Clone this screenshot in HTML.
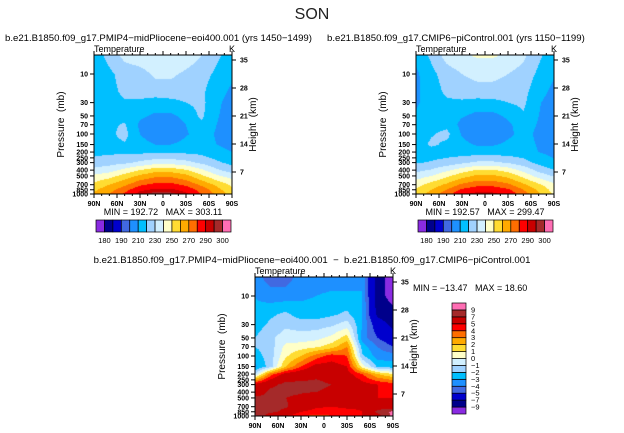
<!DOCTYPE html>
<html><head><meta charset="utf-8"><style>
body{margin:0;background:#fff;width:624px;height:433px;overflow:hidden;position:relative;font-family:"Liberation Sans",sans-serif}
canvas{position:absolute}
svg{position:absolute;left:0;top:0}
svg text{white-space:pre}
</style></head><body>
<canvas id="c1" style="left:94px;top:55px" width="138" height="139"></canvas>
<canvas id="c2" style="left:416px;top:55px" width="138" height="139"></canvas>
<canvas id="c3" style="left:255px;top:277px" width="138" height="139"></canvas>
<svg id="s" width="624" height="433">
<text x="312" y="19" text-anchor="middle" font-size="16" fill="#222">SON</text>
<text x="5" y="41" font-size="9.6" fill="#000">b.e21.B1850.f09_g17.PMIP4−midPliocene−eoi400.001 (yrs 1450−1499)</text>
<text x="327" y="41" font-size="9.6" fill="#000">b.e21.B1850.f09_g17.CMIP6−piControl.001 (yrs 1150−1199)</text>
<text x="312" y="263" text-anchor="middle" font-size="9.6" fill="#000">b.e21.B1850.f09_g17.PMIP4−midPliocene−eoi400.001  −  b.e21.B1850.f09_g17.CMIP6−piControl.001</text>
<text x="163" y="215" text-anchor="middle" font-size="9" xml:space="preserve">MIN = 192.72   MAX = 303.11</text>
<text x="485" y="215" text-anchor="middle" font-size="9" xml:space="preserve">MIN = 192.57   MAX = 299.47</text>
<text x="413" y="291" font-size="9" xml:space="preserve">MIN = −13.47   MAX = 18.60</text>
</svg>
<script>
const colors=['#8a2be2','#00008b','#0000cd','#4169e1','#1e90ff','#00bfff','#a0d2ff','#d2f0ff','#ffffc8','#ffdc32','#ffaa00','#ff6e00','#ff0000','#c80000','#a52a2a','#ff6eb4'];
const tLevels=[180,185,190,200,210,220,230,240,250,260,270,280,290,295,300];
const tLabels=['180','190','210','230','250','270','290','300'];
const dLevels=[-9,-7,-5,-4,-3,-2,-1,0,1,2,3,4,5,7,9];
const dLabels=['-9','-7','-5','-4','-3','-2','-1','0','1','2','3','4','5','7','9'];
const lats=[90,70,50,30,10,-10,-30,-50,-70,-90];
const pres=[5,10,20,30,50,70,100,150,200,300,400,500,700,850,1000];
const pTicks=[10,30,50,70,100,150,200,250,300,400,500,700,850,1000];
const hTicks=[7,14,21,28,35];
const latTicks=['90N','60N','30N','0','30S','60S','90S'];
const tLeft=[
[215,223,233,236,238,240,236,230,222,215],
[213,218,224,226,232,232,228,224,218,212],
[212,217,222,224,224,225,224,222,214,208],
[211,216,219,218,216,217,220,223,212,206],
[213,216,217,212,208,208,213,222,211,205],
[214,218,221,208,203,203,210,218,210,204],
[215,218,223,210,203,203,209,214,209,205],
[216,217,219,214,210,210,213,215,210,207],
[217,218,218,218,218,218,218,217,213,210],
[224,226,228,232,236,236,233,228,222,217],
[233,236,243,250,256,256,251,242,232,225],
[242,246,254,262,268,268,263,252,242,235],
[253,260,268,278,283,283,278,268,258,248],
[258,266,276,288,292,292,287,276,264,252],
[262,270,282,294,298,297,292,280,268,256]];
const tRight=[
[213,222,234,238,241,241,238,232,222,213],
[208,217,225,230,233,233,230,226,218,211],
[208,215,222,225,226,226,225,223,214,207],
[209,213,218,218,216,217,220,222,211,205],
[211,214,214,211,207,207,212,219,210,204],
[212,216,217,207,202,202,208,215,209,203],
[213,219,223,209,202,202,208,213,208,204],
[214,222,218,213,209,209,212,214,209,206],
[213,215,215,215,215,215,215,214,210,207],
[219,221,224,228,232,232,229,224,217,212],
[227,231,238,245,251,251,246,237,227,220],
[235,240,248,256,262,262,257,247,236,229],
[246,254,262,272,277,277,272,262,252,242],
[251,260,270,282,287,287,282,270,258,246],
[254,264,276,288,293,292,287,275,262,248]];
const tDiff=[
[-3.5,-4.5,-4.5,-3.5,-3.5,-3.5,-3.5,-3,-8,-10],
[-3,-3.5,-3.5,-3.2,-3,-2.8,-2.8,-3,-8,-10],
[-2.8,-2.2,-1.8,-2.5,-2.5,-2.2,-1.8,-3,-7.5,-8],
[-2.5,-1.8,-1.2,-1.5,-1.5,-1.2,-0.5,-3,-6,-7.5],
[-2,-1.2,-0.5,-0.5,-0.3,0.3,1.5,-3.5,-5,-6],
[-2,-1.5,0.3,0.5,0.8,1.5,3,-2.5,-4,-5],
[-2.5,-1.5,0.8,2,3.5,4.5,4,-1.8,-3.5,-3.5],
[-3.2,-1.5,2,4,5.5,5.5,5,0.5,-2.2,-2.5],
[-1,3.5,5.5,6,6.5,6,5.5,4,2,1],
[5.5,6.5,7.5,7.5,7.5,7,6.5,5.5,5,4.5],
[5.5,7.5,7.5,7.2,7,6.5,6,5.5,5,4.5],
[7.5,7.5,7,6.5,5.5,5,5.2,5.5,5,5],
[7.5,7.5,7.2,6,5.2,5,5.3,5.2,6,5.5],
[8,7.5,6.5,5,4.5,4.2,4.5,5,7.5,9.5],
[9.5,5.5,5,4,3.8,4,4.5,5,6,9.8]];

const W=138,H=139;
function yOfP(p){return (3-Math.log10(p))*60;}
function pOfY(py){return Math.pow(10,3-(H-py)/60);}
function field(grid,lat,p){
  let fx=(90-lat)/20; if(fx<0)fx=0; if(fx>9)fx=9;
  let i0=Math.min(8,Math.floor(fx)),tx=fx-i0;
  let lp=Math.log10(Math.max(5,Math.min(1000,p)));
  let j0=0; while(j0<pres.length-2 && Math.log10(pres[j0+1])<lp) j0++;
  let a=Math.log10(pres[j0]),b=Math.log10(pres[j0+1]); let ty=(lp-a)/(b-a);
  const r=j=>grid[j][i0]*(1-tx)+grid[j][i0+1]*tx;
  return r(j0)*(1-ty)+r(j0+1)*ty;
}
function fill(id,grid,levels){
  const c=document.getElementById(id),ctx=c.getContext('2d');
  for(let py=0;py<H;py++){const p=pOfY(py+0.5);
    for(let px=0;px<W;px++){const lat=90-(px+0.5)/W*180;
      const v=field(grid,lat,p);let k=0;while(k<levels.length&&v>=levels[k])k++;
      ctx.fillStyle=colors[k];ctx.fillRect(px,py,1,1);}}
}
fill('c1',tLeft,tLevels);fill('c2',tRight,tLevels);fill('c3',tDiff,dLevels);

const NS='http://www.w3.org/2000/svg',S=document.getElementById('s');
function mk(tag,at,parent){const e=document.createElementNS(NS,tag);for(const k in at)e.setAttribute(k,at[k]);(parent||S).appendChild(e);return e;}
function panel(x0,y0,pfx){
  const g=mk('g',{});
  
  
  const fr=mk('rect',{x:x0,y:y0,width:W,height:H,fill:'none',stroke:'#000','stroke-width':1},g);
  
  
  latTicks.forEach((t,i)=>{const x=x0+i*W/6;
    mk('line',{x1:x,x2:x,y1:y0+H,y2:y0+H+4,stroke:'#000'},g);
    mk('line',{x1:x,x2:x,y1:y0,y2:y0-4,stroke:'#000'},g);
    const tx=mk('text',{x:x,y:y0+H+12,'font-size':7,'font-weight':'bold','text-anchor':'middle'},g);tx.textContent=t;
    
    });
  for(let i=0;i<18;i++){const x=x0+i*W/18;mk('line',{x1:x,x2:x,y1:y0+H,y2:y0+H+2,stroke:'#000'},g);mk('line',{x1:x,x2:x,y1:y0,y2:y0-2,stroke:'#000'},g);}
  pTicks.forEach(p=>{const y=y0+H-yOfP(p);
    mk('line',{x1:x0,x2:x0-4,y1:y,y2:y,stroke:'#000'},g);
    const tx=mk('text',{x:x0-6,y:y+2.5,'font-size':7,'font-weight':'bold','text-anchor':'end'},g);tx.textContent=p;
    
    });
  hTicks.forEach(h=>{const y=y0+H+6-h*4;
    mk('line',{x1:x0+W,x2:x0+W+4,y1:y,y2:y,stroke:'#000'},g);
    const tx=mk('text',{x:x0+W+8,y:y+2.5,'font-size':7,'font-weight':'bold'},g);tx.textContent=h;
    
    });
  const a=mk('text',{x:x0,y:y0-3,'font-size':9},g);a.textContent='Temperature';
  
  
  const k=mk('text',{x:x0+W-3,y:y0-3,'font-size':9},g);k.textContent='K';
  
  
  const yt=mk('text',{x:0,y:0,'font-size':10,'text-anchor':'middle',transform:`translate(${x0-30},${y0+H/2}) rotate(-90)`},g);yt.textContent='Pressure  (mb)';
  
  
  const ht=mk('text',{x:0,y:0,'font-size':10,'text-anchor':'middle',transform:`translate(${x0+W+24},${y0+H/2}) rotate(-90)`},g);ht.textContent='Height  (km)';
  
  
}
panel(94,55,'left');panel(416,55,'right');panel(255,277,'diff');

function hbar(x0,pfx){
  const bw=135/16;
  colors.forEach((c,i)=>{const r=mk('rect',{x:x0+i*bw,y:220,width:bw,height:12,fill:c,stroke:'#000','stroke-width':0.7});
    
    });
  tLabels.forEach((t,i)=>{const tx=mk('text',{x:x0+(1+2*i)*bw,y:243,'font-size':7.5,'text-anchor':'middle'});tx.textContent=t;
    
    });
}
hbar(96,'left');hbar(418,'right');
const bh=111/16;
colors.forEach((c,i)=>{const r=mk('rect',{x:452,y:414-(i+1)*bh,width:14,height:bh,fill:c,stroke:'#000','stroke-width':0.7});
  
  });
dLabels.forEach((t,i)=>{const tx=mk('text',{x:471,y:414-(i+1)*bh+2.5,'font-size':7.5});tx.textContent=t.replace('-','−');
  
  });
</script>
</body></html>
